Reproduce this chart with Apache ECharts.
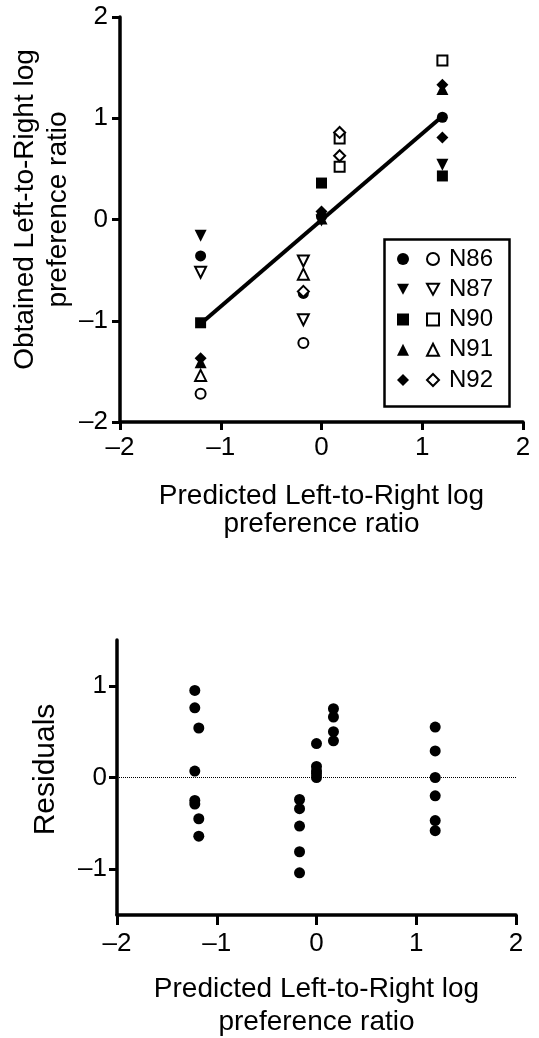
<!DOCTYPE html>
<html>
<head>
<meta charset="utf-8">
<script src="https://cdn.jsdelivr.net/npm/echarts@6/dist/echarts.min.js"></script>
<style>
html,body{margin:0;padding:0;background:#fff;}
#c{width:539px;height:1038px;}
</style>
</head>
<body>
<div id="c"></div>
<script>
// ---- data ----
var subjects = ['N86', 'N87', 'N90', 'N91', 'N92'];
var xTicks = [-2, -1, 0, 1, 2];
var yTicksTop = [-2, -1, 0, 1, 2];
var yTicksResid = [-1, 0, 1];

// filled markers [predicted, obtained]
var n86Filled = [[-1.2, -0.36], [0, 0.03], [1.2, 1.01], [-0.18, -0.73]];
var n87Filled = [[-1.2, -0.16], [0, -0.01], [1.2, 0.54]];
var n90Filled = [[-1.2, -1.02], [0, 0.36], [1.2, 0.43]];
var n91Filled = [[-1.2, -1.41], [0, 0.01], [1.2, 1.29]];
var n92Filled = [[-1.2, -1.37], [0, 0.08], [1.2, 1.33], [1.2, 0.81]];
// open markers
var n86Open = [[-1.2, -1.72], [-0.18, -1.22]];
var n87Open = [[-1.2, -0.52], [-0.18, -0.41], [-0.18, -0.99]];
var n90Open = [[0.18, 0.80], [0.18, 0.52], [1.2, 1.57]];
var n91Open = [[-1.2, -1.54], [-0.18, -0.54]];
var n92Open = [[0.18, 0.86], [0.18, 0.63], [-0.18, -0.71]];
// regression line end points
var fitLine = [[-1.2, -1.03], [1.2, 1.02]];

// residuals [predicted, residual]
var residuals = [
  [-1.22, 0.95], [-1.22, 0.76], [-1.18, 0.54], [-1.22, 0.07], [-1.22, -0.25], [-1.22, -0.29], [-1.18, -0.45], [-1.18, -0.64],
  [-0.17, -0.24], [-0.17, -0.34], [-0.17, -0.53], [-0.17, -0.81], [-0.17, -1.04],
  [0, 0.37], [0, 0.12], [0, 0.07], [0, 0.04], [0, 0.0],
  [0.17, 0.75], [0.17, 0.66], [0.17, 0.5], [0.17, 0.4],
  [1.19, 0.55], [1.19, 0.29], [1.19, 0.0], [1.19, -0.2], [1.19, -0.47], [1.19, -0.58]
];

// ---- styling ----
var FONT = '"Liberation Sans", Arial, Helvetica, sans-serif';
var downTri = 'path://M0,0 L10,0 L5,9 Z';
var shapes = ['circle', downTri, 'rect', 'triangle', 'diamond'];
var filledSizes = [11, 12, 11, 12, 12];
var openSizes = [10, 11, 10, 11, 11];
var filledData = [n86Filled, n87Filled, n90Filled, n91Filled, n92Filled];
var openData = [n86Open, n87Open, n90Open, n91Open, n92Open];

function tickFmt(v) { return String(v).replace('-', '\u2013'); }

function axisCommon(extra) {
  var o = {
    nameMoveOverlap: false,
    axisLine: { show: true, onZero: false, lineStyle: { color: '#000', width: 3.5 } },
    axisTick: { show: true, inside: false, length: 8, lineStyle: { color: '#000', width: 3 } },
    axisLabel: { color: '#000', fontSize: 26, fontFamily: FONT, margin: 13, formatter: tickFmt },
    splitLine: { show: false },
    nameTextStyle: { color: '#000', fontSize: 28, fontFamily: FONT }
  };
  for (var k in extra) {
    if (typeof extra[k] === 'object' && o[k] && !Array.isArray(extra[k])) {
      for (var j in extra[k]) o[k][j] = extra[k][j];
    } else o[k] = extra[k];
  }
  return o;
}

var series = [];
subjects.forEach(function (s, i) {
  series.push({
    name: s, type: 'scatter', xAxisIndex: 0, yAxisIndex: 0,
    symbol: shapes[i], symbolSize: filledSizes[i],
    itemStyle: { color: '#000', opacity: 1 },
    data: filledData[i], z: 3
  });
});
subjects.forEach(function (s, i) {
  series.push({
    name: s + ' open', type: 'scatter', xAxisIndex: 0, yAxisIndex: 0,
    symbol: shapes[i], symbolSize: openSizes[i],
    itemStyle: { color: '#fff', borderColor: '#000', borderWidth: 2, opacity: 1 },
    data: openData[i], z: 3
  });
});
series.push({
  name: 'fit', type: 'line', xAxisIndex: 0, yAxisIndex: 0,
  data: fitLine, showSymbol: false, symbol: 'none',
  lineStyle: { color: '#000', width: 4 }, z: 4, silent: true
});
series.push({
  name: 'residuals', type: 'scatter', xAxisIndex: 1, yAxisIndex: 1,
  symbol: 'circle', symbolSize: 11,
  itemStyle: { color: '#000', opacity: 1 },
  data: residuals, z: 3,
  markLine: {
    silent: true, symbol: ['none', 'none'], label: { show: false },
    lineStyle: { color: '#000', type: 'dotted', width: 1 },
    data: [{ yAxis: 0 }], animation: false
  }
});

var legendTextStyle = { color: '#000', fontSize: 24, fontFamily: FONT, lineHeight: 26 };

var option = {
  animation: false,
  backgroundColor: '#fff',
  grid: [
    { left: 120, top: 17, width: 403, height: 405, outerBoundsMode: 'none', containLabel: false },
    { left: 117, top: 640, width: 399, height: 275, outerBoundsMode: 'none', containLabel: false }
  ],
  xAxis: [
    axisCommon({
      gridIndex: 0, type: 'value', min: -2, max: 2, interval: 1,
      axisLabel: { margin: 13 },
      name: 'Predicted Left-to-Right log\npreference ratio',
      nameLocation: 'middle', nameGap: 60,
      nameTextStyle: { lineHeight: 28 }
    }),
    axisCommon({
      gridIndex: 1, type: 'value', min: -2, max: 2, interval: 1,
      axisTick: { length: 10 },
      axisLabel: { margin: 16 },
      name: 'Predicted Left-to-Right log\npreference ratio',
      nameLocation: 'middle', nameGap: 58,
      nameTextStyle: { lineHeight: 33 }
    })
  ],
  yAxis: [
    axisCommon({
      gridIndex: 0, type: 'value', min: -2, max: 2, interval: 1,
      axisLabel: { margin: 12 },
      name: 'Obtained Left-to-Right log\npreference ratio',
      nameLocation: 'middle', nameGap: 45,
      nameTextStyle: { lineHeight: 33, padding: [0, 0, 0, 20] }
    }),
    axisCommon({
      gridIndex: 1, type: 'value', min: -1.5, max: 1.5,
      axisTick: { length: 8, customValues: yTicksResid },
      axisLabel: { margin: 10, customValues: yTicksResid },
      name: 'Residuals',
      nameLocation: 'middle', nameGap: 55,
      nameTextStyle: { fontSize: 30, lineHeight: 33, padding: [0, 0, 0, 16] }
    })
  ],
  legend: [
    {
      orient: 'vertical', left: 397, top: 246, padding: 0,
      itemWidth: 12, itemHeight: 12, itemGap: 4.25,
      selectedMode: false,
      data: subjects.map(function (s, i) { return { name: s, icon: shapes[i] }; }),
      formatter: function () { return ' '; },
      itemStyle: { color: '#000', borderWidth: 0 },
      textStyle: legendTextStyle
    },
    {
      orient: 'vertical', left: 426, top: 246, padding: 0,
      itemWidth: 12, itemHeight: 12, itemGap: 4.25,
      selectedMode: false,
      data: subjects.map(function (s, i) { return { name: s + ' open', icon: shapes[i] }; }),
      formatter: function (n) { return n.replace(' open', ''); },
      itemStyle: { color: '#fff', borderColor: '#000', borderWidth: 2 },
      textStyle: { color: '#000', fontSize: 24, fontFamily: FONT, lineHeight: 26, padding: [0, 0, 0, 5] }
    }
  ],
  graphic: [
    {
      type: 'rect', left: 382, top: 237, z: 10, silent: true,
      shape: { width: 125, height: 167 },
      style: { fill: 'none', stroke: '#000', lineWidth: 2.5 }
    }
  ],
  series: series
};

var chart = echarts.init(document.getElementById('c'), null, { renderer: 'canvas' });
chart.setOption(option);
</script>
</body>
</html>
